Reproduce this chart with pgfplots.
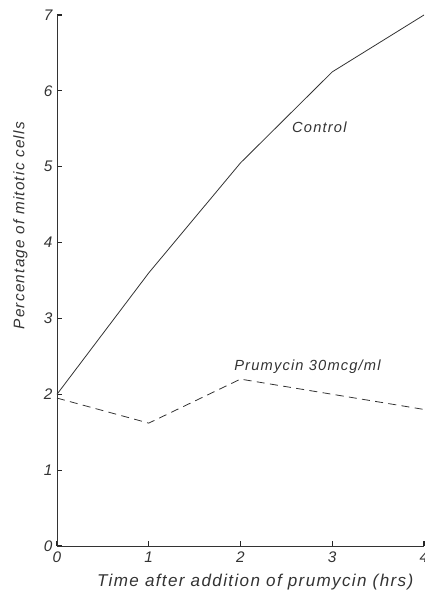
\documentclass[border=0pt]{standalone}
\usepackage{pgfplots}
\pgfplotsset{compat=1.18}
\usepackage{fontspec}
\setmainfont{Liberation Sans}[LetterSpace=8]
\begin{document}
\begin{tikzpicture}
\begin{axis}[name=ax, scale only axis, width=275.25pt, height=398.25pt,
  xmin=0, xmax=4, ymin=0, ymax=7,
  axis x line*=bottom, axis y line*=left, axis line style={-, draw=black!80, line width=0.6pt},
  xtick align=inside, ytick align=inside, major tick length=4pt,
  every tick/.style={draw=black!85, line width=0.8pt},
  xtick={0,1,2,3,4}, ytick={0,1,2,3,4,5,6,7},
  /pgf/number format/assume math mode=true,
  tick label style={font=\itshape\fontsize{11.5}{13}\selectfont, text=black!80},
  xticklabel style={yshift=-1pt},
  xlabel={Time after addition of prumycin (hrs)},
  ylabel={Percentage of mitotic cells},
  xlabel style={font=\itshape\fontsize{12.8}{14}\selectfont, text=black!80, at={(axis description cs:0.54,-0.068)}, anchor=center},
  ylabel style={font=\itshape\fontsize{11.5}{13}\selectfont, text=black!80, at={(axis description cs:-0.10,0.603)}, anchor=center, rotate=0},
  clip=false]
\addplot[black!80, line width=0.6pt] coordinates {(0,2.0) (1,3.6) (2,5.05) (3,6.25) (4,7.0)};
\addplot[black!80, line width=0.6pt, dash pattern=on 6pt off 4pt] coordinates {(0,1.95) (1,1.62) (2,2.2) (3,2.0) (4,1.8)};
\node[font=\itshape\fontsize{11}{13}\selectfont, text=black!80] at (axis cs:2.86,5.52) {Control};
\node[font=\itshape\fontsize{11}{13}\selectfont, text=black!80] at (axis cs:2.73,2.37) {Prumycin 30mcg/ml};
\end{axis}
\pgfresetboundingbox
\path ([xshift=-42.75pt,yshift=-33.75pt]ax.south west) rectangle ([yshift=11.25pt]ax.north east);
\end{tikzpicture}
\end{document}
